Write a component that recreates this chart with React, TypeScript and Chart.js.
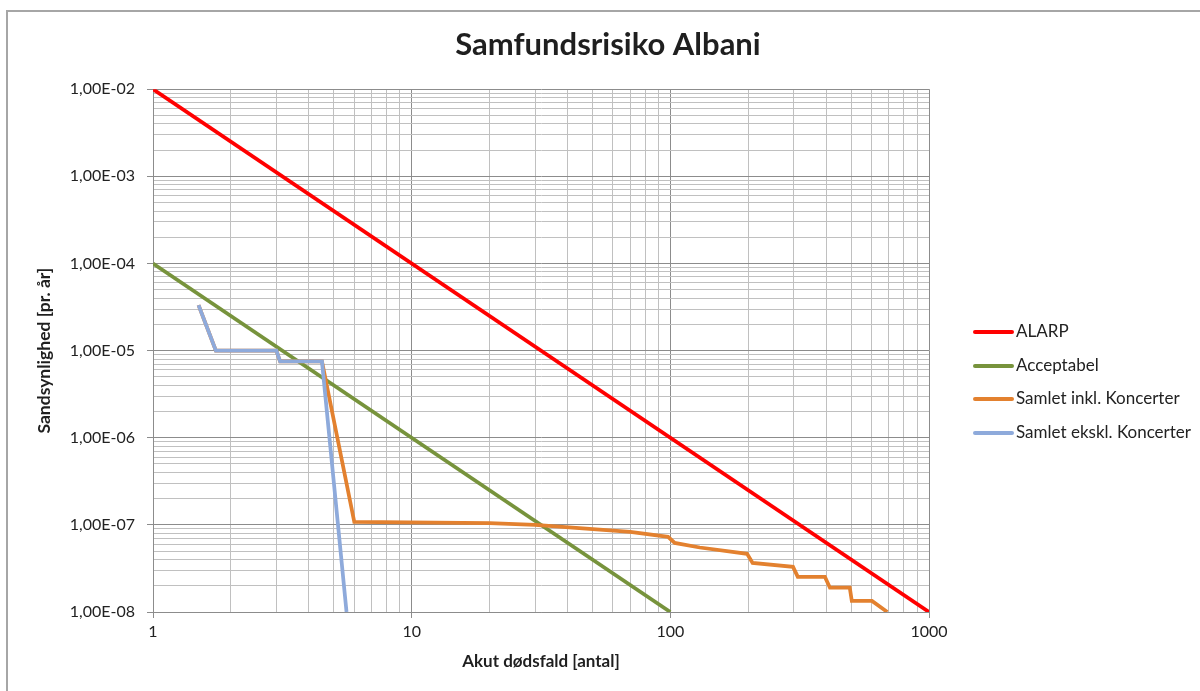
import React, { useEffect, useRef } from "react";
import { Chart, registerables } from "chart.js";

Chart.register(...registerables);

// ---- data ----
const alarpX = [1, 1000];
const alarpY = [1e-2, 1e-8];

const acceptX = [1, 100];
const acceptY = [1e-4, 1e-8];

const inklX = [1.5, 1.75, 3, 3.1, 4.5, 6, 20, 30, 70, 98, 104, 130, 198, 208, 298, 311, 396, 414, 494, 503, 602, 690];
const inklY = [3.33e-5, 1e-5, 1e-5, 7.5e-6, 7.5e-6, 1.08e-7, 1.05e-7, 1.0e-7, 8.3e-8, 7.3e-8, 6.2e-8, 5.5e-8, 4.65e-8, 3.66e-8, 3.3e-8, 2.53e-8, 2.53e-8, 1.9e-8, 1.9e-8, 1.34e-8, 1.34e-8, 1e-8];

const ekslX = [1.5, 1.75, 3, 3.1, 4.5, 5.6];
const ekslY = [3.33e-5, 1e-5, 1e-5, 7.5e-6, 7.5e-6, 1e-8];

const seriesNames = ["ALARP", "Acceptabel", "Samlet inkl. Koncerter", "Samlet ekskl. Koncerter"];
const seriesColors = ["#ff0000", "#77933c", "#e3812f", "#8eaadb"];

const xTickLabels = ["1", "10", "100", "1000"];
const yTickLabels = ["1,00E-08", "1,00E-07", "1,00E-06", "1,00E-05", "1,00E-04", "1,00E-03", "1,00E-02"];

const chartTitle = "Samfundsrisiko Albani";
const xTitle = "Akut dødsfald [antal]";
const yTitle = "Sandsynlighed [pr. år]";

const FONT = "Lato, 'Noto Sans', sans-serif";

function zip(xs: number[], ys: number[]) {
  return xs.map((x, i) => ({ x, y: ys[i] }));
}

function logTicks(minExp: number, maxExp: number) {
  const out: { value: number; major: boolean }[] = [];
  for (let e = minExp; e < maxExp; e++) {
    for (let m = 1; m <= 9; m++) {
      out.push({ value: Number((m * Math.pow(10, e)).toPrecision(3)), major: m === 1 });
    }
  }
  out.push({ value: Math.pow(10, maxExp), major: true });
  return out;
}

function isMajorVal(v: number) {
  const l = Math.log10(v);
  return Math.abs(l - Math.round(l)) < 1e-9;
}

const framePlugin = {
  id: "frame",
  beforeDraw(chart: any) {
    const ctx = chart.ctx;
    ctx.save();
    ctx.fillStyle = "#ffffff";
    ctx.fillRect(0, 0, chart.width, chart.height);
    ctx.strokeStyle = "#a6a6a6";
    ctx.lineWidth = 2;
    ctx.beginPath();
    ctx.moveTo(7, chart.height);
    ctx.lineTo(7, 11);
    ctx.lineTo(chart.width, 11);
    ctx.stroke();
    ctx.restore();
  },
};

const legendPlugin = {
  id: "customLegend",
  afterDraw(chart: any) {
    const ctx = chart.ctx;
    const rows = [332, 366, 399, 433];
    ctx.save();
    chart.data.datasets.forEach((ds: any, i: number) => {
      const y = rows[i];
      ctx.strokeStyle = ds.borderColor;
      ctx.lineWidth = 4;
      ctx.lineCap = "round";
      ctx.beginPath();
      ctx.moveTo(975, y);
      ctx.lineTo(1012, y);
      ctx.stroke();
      ctx.fillStyle = "#222222";
      ctx.font = `17px ${FONT}`;
      ctx.textBaseline = "middle";
      ctx.textAlign = "left";
      ctx.fillText(ds.label, 1016, y);
    });
    ctx.restore();
  },
};

export default function App() {
  const ref = useRef<HTMLCanvasElement | null>(null);

  useEffect(() => {
    if (!ref.current) return;
    const xs = [alarpX, acceptX, inklX, ekslX];
    const ys = [alarpY, acceptY, inklY, ekslY];
    const drawOrder = [3, 2, 1, 0];
    const gridColor = (c: any) => (c.tick && isMajorVal(c.tick.value) ? "#8c8c8c" : "#c0c0c0");
    const tickColor = (c: any) => (c.tick && isMajorVal(c.tick.value) ? "#8c8c8c" : "rgba(0,0,0,0)");
    const chart = new Chart(ref.current, {
      type: "line",
      data: {
        datasets: seriesNames.map((name, i) => ({
          label: name,
          data: zip(xs[i], ys[i]),
          borderColor: seriesColors[i],
          backgroundColor: seriesColors[i],
          borderWidth: 3.75,
          pointRadius: 0,
          tension: 0,
          fill: false,
          order: drawOrder[i],
          yAxisID: "y",
        })),
      },
      options: {
        animation: false,
        responsive: false,
        maintainAspectRatio: false,
        layout: { padding: { left: 16, right: 0, top: 0, bottom: 0 } },
        plugins: {
          legend: { display: false },
          tooltip: { enabled: false },
          title: {
            display: true,
            text: chartTitle,
            color: "#1f1f1f",
            font: { family: FONT, size: 31, weight: "bold", lineHeight: 1.2 },
            padding: { top: 26, bottom: 26 },
          },
        },
        scales: {
          x: {
            type: "logarithmic",
            min: 1,
            max: 1000,
            afterBuildTicks: (axis: any) => {
              axis.ticks = logTicks(0, 3);
            },
            afterFit: (s: any) => {
              s.height = 79;
            },
            ticks: {
              autoSkip: false,
              maxRotation: 0,
              padding: 4,
              color: "#222222",
              font: { family: FONT, size: 16 },
              callback: (v: any) => {
                if (!isMajorVal(v)) return "";
                const idx = Math.round(Math.log10(v));
                return xTickLabels[idx];
              },
            },
            grid: { color: gridColor, tickColor, tickLength: 6, lineWidth: 1 },
            border: { color: "#8c8c8c", width: 1 },
            title: {
              display: true,
              text: xTitle,
              color: "#1f1f1f",
              font: { family: FONT, size: 17, weight: "bold", lineHeight: 1.2 },
              padding: { top: 4, bottom: 19 },
            },
          },
          y: {
            type: "logarithmic",
            position: "left",
            min: 1e-8,
            max: 1e-2,
            afterBuildTicks: (axis: any) => {
              axis.ticks = logTicks(-8, -2);
            },
            afterFit: (s: any) => {
              s.width = 137;
            },
            ticks: {
              autoSkip: false,
              padding: 12,
              color: "#222222",
              font: { family: FONT, size: 16 },
              callback: (v: any) => {
                if (!isMajorVal(v)) return "";
                const idx = Math.round(Math.log10(v)) + 8;
                return yTickLabels[idx];
              },
            },
            grid: { color: gridColor, tickColor, tickLength: 6, lineWidth: 1 },
            border: { color: "#8c8c8c", width: 1 },
            title: {
              display: true,
              text: yTitle,
              color: "#1f1f1f",
              font: { family: FONT, size: 17.5, weight: "bold", lineHeight: 1.2 },
              padding: { top: 18, bottom: 4 },
            },
          },
          legendSpace: {
            type: "linear",
            position: "right",
            display: true,
            afterFit: (s: any) => {
              s.width = 271;
            },
            grid: { display: false, drawTicks: false },
            border: { display: false },
            ticks: { display: false },
          },
        },
      },
      plugins: [framePlugin, legendPlugin],
    });
    return () => chart.destroy();
  }, []);

  return (
    <div style={{ position: "absolute", left: 0, top: 0, width: 1200, height: 691 }}>
      <canvas ref={ref} width={1200} height={691} style={{ width: 1200, height: 691, display: "block" }} />
    </div>
  );
}
